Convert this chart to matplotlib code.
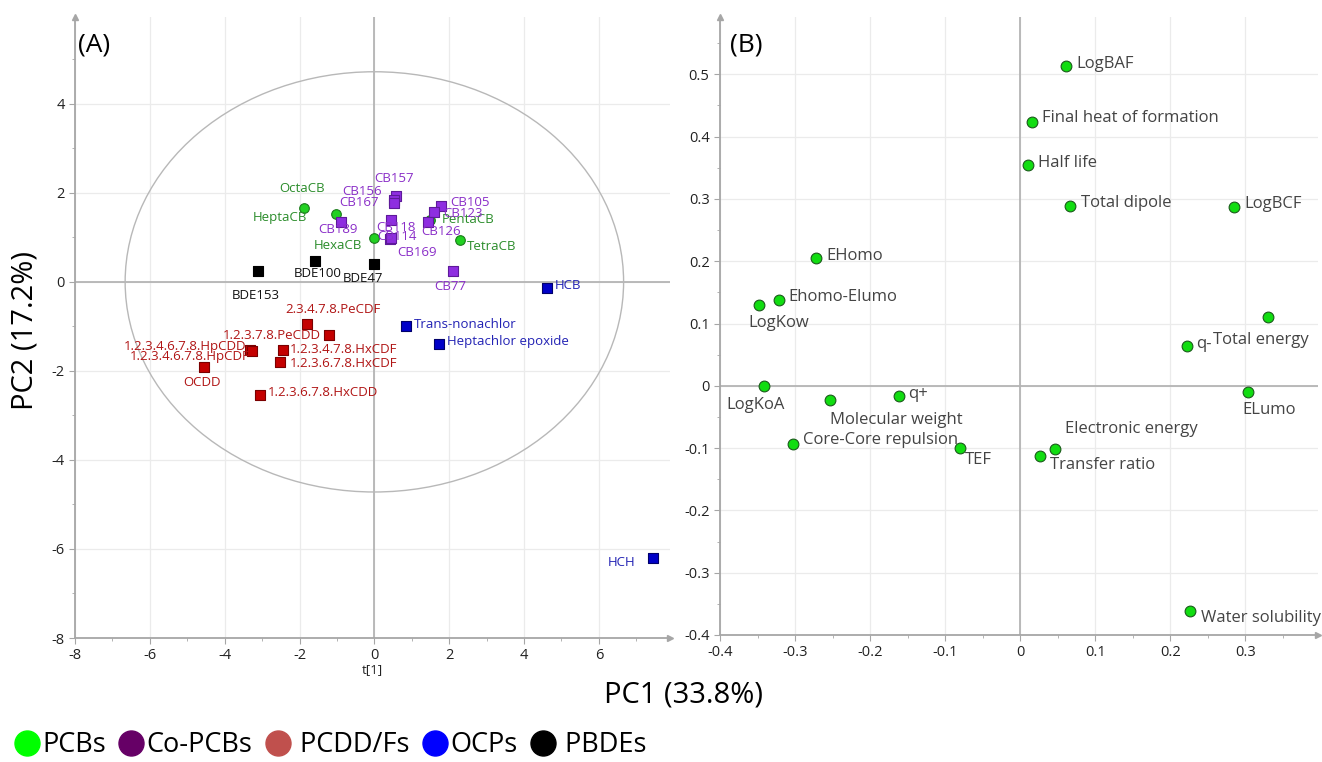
import numpy as np
import matplotlib.pyplot as plt
from matplotlib.patches import Ellipse
from matplotlib.lines import Line2D

plt.rcParams['font.family'] = ['Open Sans', 'DejaVu Sans']
plt.rcParams['axes.unicode_minus'] = False

# ---- scores (A) ----
pcb_names = ['OctaCB', 'HeptaCB', 'HexaCB', 'PentaCB', 'TetraCB']
pcb_t1 = [-1.87, -1.02, 0.00, 1.48, 2.30]
pcb_t2 = [1.67, 1.52, 0.98, 1.39, 0.95]

copcb_names = ['CB157', 'CB156', 'CB167', 'CB189', 'CB118', 'CB114', 'CB169',
               'CB105', 'CB123', 'CB126', 'CB77']
copcb_t1 = [0.58, 0.53, 0.52, -0.89, 0.44, 0.42, 0.45, 1.78, 1.60, 1.43, 2.10]
copcb_t2 = [1.92, 1.84, 1.78, 1.35, 1.39, 0.96, 0.99, 1.70, 1.58, 1.34, 0.24]

pcdd_names = ['2.3.4.7.8.PeCDF', '1.2.3.7.8.PeCDD', '1.2.3.4.7.8.HxCDF',
              '1.2.3.6.7.8.HxCDF', '1.2.3.6.7.8.HxCDD', '1.2.3.4.6.7.8.HpCDD',
              '1.2.3.4.6.7.8.HpCDF', 'OCDD']
pcdd_t1 = [-1.80, -1.20, -2.44, -2.51, -3.05, -3.33, -3.27, -4.54]
pcdd_t2 = [-0.94, -1.20, -1.52, -1.81, -2.54, -1.52, -1.55, -1.92]

ocp_names = ['HCB', 'Trans-nonachlor', 'Heptachlor epoxide', 'HCH']
ocp_t1 = [4.60, 0.85, 1.74, 7.45]
ocp_t2 = [-0.13, -0.99, -1.39, -6.20]

pbde_names = ['BDE153', 'BDE100', 'BDE47']
pbde_t1 = [-3.12, -1.58, -0.02]
pbde_t2 = [0.24, 0.48, 0.40]

# Hotelling T2 ellipse semi-axes
t2_a, t2_b = 6.66, 4.72

# ---- loadings (B) ----
var_names = ['LogBAF', 'Final heat of formation', 'Half life', 'Total dipole',
             'LogBCF', 'EHomo', 'Ehomo-Elumo', 'LogKow', 'Total energy', 'q-',
             'LogKoA', 'ELumo', 'q+', 'Molecular weight', 'Core-Core repulsion',
             'TEF', 'Electronic energy', 'Transfer ratio', 'Water solubility']
p1 = [0.061, 0.016, 0.011, 0.067, 0.285, -0.272, -0.322, -0.348, 0.330, 0.223,
      -0.342, 0.304, -0.162, -0.253, -0.303, -0.080, 0.046, 0.027, 0.226]
p2 = [0.513, 0.423, 0.354, 0.288, 0.287, 0.205, 0.137, 0.130, 0.111, 0.064,
      0.000, -0.010, -0.016, -0.022, -0.093, -0.100, -0.102, -0.113, -0.361]

# label placement (offset pixels, alignment)
lab_a = {
    'OctaCB': (-2, 19, 'center'), 'HeptaCB': (-29, -3, 'right'),
    'HexaCB': (-12, -7, 'right'), 'PentaCB': (12, 0, 'left'),
    'TetraCB': (6, -7, 'left'),
    'CB157': (-2, 18, 'center'), 'CB156': (-12, 8, 'right'),
    'CB167': (-15, 0, 'right'), 'CB189': (-3, -8, 'center'),
    'CB118': (-15, -8, 'left'), 'CB114': (-13, 3, 'left'),
    'CB169': (6, -15, 'left'), 'CB105': (9, 4, 'left'),
    'CB123': (9, -2, 'left'), 'CB126': (-7, -9, 'left'),
    'CB77': (-3, -15, 'center'),
    '2.3.4.7.8.PeCDF': (26, 14, 'center'), '1.2.3.7.8.PeCDD': (-9, 0, 'right'),
    '1.2.3.4.7.8.HxCDF': (7, 0, 'left'), '1.2.3.6.7.8.HxCDF': (9, -1, 'left'),
    '1.2.3.6.7.8.HxCDD': (8, 2, 'left'), '1.2.3.4.6.7.8.HpCDD': (-3, 3, 'right'),
    '1.2.3.4.6.7.8.HpCDF': (-2, -6, 'right'), 'OCDD': (-2, -15, 'center'),
    'HCB': (8, 2, 'left'), 'Trans-nonachlor': (8, 1, 'left'),
    'Heptachlor epoxide': (8, 2, 'left'), 'HCH': (-18, -5, 'right'),
    'BDE153': (-2, -24, 'center'), 'BDE100': (2, -13, 'center'),
    'BDE47': (-11, -14, 'center'),
}
lab_b = {
    'LogBAF': (10, 2, 'left'), 'Final heat of formation': (10, 4, 'left'),
    'Half life': (10, 2, 'left'), 'Total dipole': (11, 3, 'left'),
    'LogBCF': (10, 3, 'left'), 'EHomo': (10, 2, 'left'),
    'Ehomo-Elumo': (10, 3, 'left'), 'LogKow': (-11, -18, 'left'),
    'Total energy': (-55, -23, 'left'), 'q-': (9, 2, 'left'),
    'LogKoA': (-37, -19, 'left'), 'ELumo': (21, -18, 'center'),
    'q+': (10, 2, 'left'), 'Molecular weight': (0, -20, 'left'),
    'Core-Core repulsion': (10, 4, 'left'), 'TEF': (5, -12, 'left'),
    'Electronic energy': (10, 20, 'left'), 'Transfer ratio': (10, -9, 'left'),
    'Water solubility': (11, -7, 'left'),
}

fig = plt.figure(figsize=(13.22, 7.62), dpi=100)
axA = fig.add_axes([75/1322, 124/762, 595/1322, 621/762])
axB = fig.add_axes([720/1322, 127/762, 598/1322, 618/762])

axis_grey = '#a6a6a6'

def frame(ax, xmaj, ymaj, xmin, ymin, xlabs, ylabs):
    ax.set_xticks(xmaj)
    ax.set_xticklabels(xlabs)
    ax.set_yticks(ymaj)
    ax.set_yticklabels(ylabs)
    ax.set_xticks(xmin, minor=True)
    ax.set_yticks(ymin, minor=True)
    ax.grid(True, color='#ebebeb', lw=0.9, zorder=0)
    ax.set_axisbelow(True)
    for s in ['top', 'right']:
        ax.spines[s].set_visible(False)
    for s in ['left', 'bottom']:
        ax.spines[s].set_color(axis_grey)
        ax.spines[s].set_linewidth(1.3)
    ax.tick_params(which='both', colors=axis_grey, labelcolor='#222222', labelsize=10.5)
    ax.tick_params(which='major', length=4)
    ax.tick_params(which='minor', length=2.5)
    ax.axhline(0, color='#b4b4b4', lw=1.3, zorder=1)
    ax.axvline(0, color='#b4b4b4', lw=1.3, zorder=1)
    # arrow heads at the axis ends
    ax.plot(1, ax.get_ylim()[0], '>', color=axis_grey, ms=5,
            transform=ax.get_yaxis_transform(), clip_on=False)
    ax.plot(ax.get_xlim()[0], 1, '^', color=axis_grey, ms=5,
            transform=ax.get_xaxis_transform(), clip_on=False)

# ---------- panel A ----------
axA.set_xlim(-8, 7.9)
axA.set_ylim(-8, 5.95)
frame(axA, np.arange(-8, 7, 2), np.arange(-8, 5, 2), np.arange(-8, 8, 1),
      np.arange(-8, 6, 1), [str(v) for v in range(-8, 7, 2)],
      [str(v) for v in range(-8, 5, 2)])
axA.add_patch(Ellipse((0, 0), 2*t2_a, 2*t2_b, fill=False, edgecolor='#b8b8b8', lw=1.0))

groups = [
    (pcb_names, pcb_t1, pcb_t2, 'o', '#22d022', '#1a7a1a', '#2a8c2a'),
    (copcb_names, copcb_t1, copcb_t2, 's', '#8e2ee0', '#5e1a9a', '#8a2ec8'),
    (pcdd_names, pcdd_t1, pcdd_t2, 's', '#c40000', '#7a0000', '#b01414'),
    (ocp_names, ocp_t1, ocp_t2, 's', '#0000c8', '#00006a', '#2222b4'),
    (pbde_names, pbde_t1, pbde_t2, 's', '#000000', '#000000', '#111111'),
]
for names, xs, ys, mk, fc, ec, tc in groups:
    axA.scatter(xs, ys, marker=mk, s=48, c=fc, edgecolors=ec, linewidths=0.8, zorder=3)
    for n, x, y in zip(names, xs, ys):
        dx, dy, ha = lab_a[n]
        axA.annotate(n, (x, y), xytext=(dx, dy), textcoords='offset pixels',
                     ha=ha, va='center', fontsize=9.5, color=tc, zorder=4)
axA.set_xlabel('t[1]', fontsize=9.5, labelpad=0, color='#222222')

# ---------- panel B ----------
axB.set_xlim(-0.4, 0.397)
axB.set_ylim(-0.4, 0.592)
xt = np.round(np.arange(-0.4, 0.31, 0.1), 1)
yt = np.round(np.arange(-0.4, 0.51, 0.1), 1)
fmt = lambda v: '0' if abs(v) < 1e-9 else f'{v:g}'
frame(axB, xt, yt, np.arange(-0.4, 0.4, 0.05), np.arange(-0.4, 0.6, 0.05),
      [fmt(v) for v in xt], [fmt(v) for v in yt])
axB.scatter(p1, p2, marker='o', s=60, c='#11dd11', edgecolors='#1a5a1a',
            linewidths=0.8, zorder=3)
for n, x, y in zip(var_names, p1, p2):
    dx, dy, ha = lab_b[n]
    axB.annotate(n, (x, y), xytext=(dx, dy), textcoords='offset pixels',
                 ha=ha, va='center', fontsize=12, color='#444444', zorder=4,
                 annotation_clip=False)

# ---------- figure texts ----------
fig.text(78/1322, 1 - 45/762, '(A)', fontsize=19, va='center', ha='left')
fig.text(730/1322, 1 - 45/762, '(B)', fontsize=19, va='center', ha='left')
fig.text(683/1322, 1 - 695/762, 'PC1 (33.8%)', fontsize=21, ha='center', va='center')
fig.text(25/1322, 1 - 330/762, 'PC2 (17.2%)', fontsize=21, ha='center', va='center',
         rotation=90)

legend_names = ['PCBs', 'Co-PCBs', ' PCDD/Fs', 'OCPs', ' PBDEs']
legend_cols = ['#00ff00', '#660066', '#c0504d', '#0000ff', '#000000']
handles = [Line2D([], [], marker='o', ls='', ms=18, mfc=c, mec=c) for c in legend_cols]
fig.legend(handles, legend_names, loc='center left', bbox_to_anchor=(0.0, 0.022),
           ncol=5, frameon=False, fontsize=19.5, handletextpad=0.05,
           columnspacing=0.45, handlelength=1.0, borderpad=0)

fig.savefig('out.png', dpi=100)
